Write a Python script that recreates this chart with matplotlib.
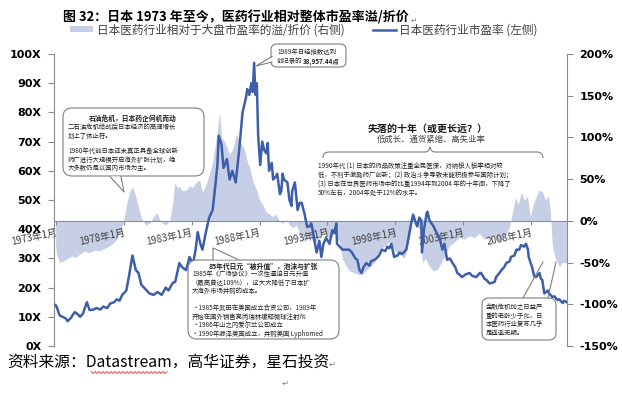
import numpy as np
import matplotlib
matplotlib.use('Agg')
import matplotlib.pyplot as plt
from matplotlib.patches import FancyBboxPatch, Polygon, Patch, PathPatch
from matplotlib.lines import Line2D
from matplotlib.path import Path
from matplotlib.transforms import IdentityTransform

plt.rcParams['font.family'] = ['Noto Sans CJK SC', 'DejaVu Sans']

# ---------------- data ----------------
pe_years = [1973.0, 1973.07, 1973.29, 1973.51, 1973.73, 1973.88, 1974.1, 1974.4, 1974.6, 1974.8, 1975.0,
            1975.3, 1975.5, 1975.8, 1976.0, 1976.3, 1976.5, 1976.8, 1977.0, 1977.3, 1977.5, 1977.7,
            1977.9, 1978.2, 1978.4, 1978.65, 1978.9, 1979.1, 1979.3, 1979.6, 1979.9, 1980.2, 1980.5,
            1980.8, 1981.1, 1981.3, 1981.6, 1981.8, 1982.1, 1982.3, 1982.6, 1982.85, 1983.1, 1983.3,
            1983.45, 1983.65, 1983.8, 1984.1, 1984.3, 1984.55, 1984.75, 1984.9, 1985.0, 1985.2, 1985.35,
            1985.6, 1985.8, 1986.0, 1986.25, 1986.5, 1986.75, 1987.0, 1987.1, 1987.25, 1987.4, 1987.5,
            1987.6, 1987.7, 1987.8, 1987.9, 1988.05, 1988.2, 1988.35, 1988.5, 1988.6, 1988.7, 1988.9,
            1989.0, 1989.2, 1989.3, 1989.5, 1989.6, 1989.7, 1989.8, 1990.05, 1990.2, 1990.35, 1990.4,
            1990.6, 1990.8, 1990.95, 1991.1, 1991.3, 1991.45, 1991.5, 1991.7, 1991.8, 1991.9, 1992.0,
            1992.2, 1992.25, 1992.4, 1992.55, 1992.7, 1992.9, 1993.15, 1993.35, 1993.5, 1993.65, 1993.7,
            1993.9, 1994.1, 1994.4, 1994.6, 1994.8, 1995.05, 1995.2, 1995.35, 1995.5, 1995.65, 1995.85,
            1996.1, 1996.2, 1996.45, 1996.6, 1996.8, 1997.0, 1997.25, 1997.4, 1997.55, 1997.7, 1997.9,
            1998.15, 1998.3, 1998.5, 1998.8, 1999.0, 1999.2, 1999.3, 1999.5, 1999.6, 1999.75, 1999.9,
            1999.95, 2000.1, 2000.3, 2000.35, 2000.5, 2000.65, 2000.8, 2000.9, 2001.0, 2001.25, 2001.45,
            2001.6, 2001.8, 2002.0, 2002.2, 2002.4, 2002.55, 2002.7, 2002.9, 2003.15, 2003.45, 2003.65,
            2003.95, 2004.2, 2004.3, 2004.55, 2004.7, 2004.9, 2005.05, 2005.3, 2005.4, 2005.65, 2005.8,
            2006.0, 2006.15, 2006.4, 2006.5, 2006.75, 2006.9, 2007.1, 2007.25, 2007.45, 2007.6, 2007.75,
            2007.8, 2008.05, 2008.2, 2008.35, 2008.6, 2008.7, 2008.8, 2008.95, 2009.2, 2009.3, 2009.55,
            2009.7, 2009.9, 2010.05, 2010.3, 2010.4, 2010.6]
pe_values = [14, 13.5, 10.5, 10, 9.5, 8.5, 9.5, 11.6, 11, 10, 11,
             15, 12.3, 12.5, 13, 12.5, 13.5, 13, 14.5, 15, 16, 15.5,
             17.5, 19, 24, 31, 26, 25, 21, 19.5, 18, 17.5, 18.5,
             17.5, 20, 19, 21.5, 22, 28.4, 27, 26, 30.5, 28, 33,
             39, 35, 33, 40, 44, 46.6, 55, 62, 72, 69, 61,
             64, 57, 60, 56, 67, 80, 85, 88, 86, 90, 87,
             97, 86, 90, 72, 62, 70, 67, 66, 69.5, 60, 62.7,
             57, 58, 59, 52, 53, 59, 57, 56, 50, 48, 53,
             56, 46.6, 49, 49, 45.5, 42, 40.8, 41, 42, 40, 37,
             32, 33, 36, 30.5, 35, 37, 35, 39.7, 38.7, 42, 35,
             34, 33, 33, 33, 32, 30, 29.5, 26, 25, 27, 28.4,
             27.5, 29, 29.5, 30, 31, 33, 32.5, 34, 33.5, 35, 30.5,
             31, 32, 31.5, 33, 38, 43, 45, 42, 41, 44, 43,
             32, 40, 45.5, 46, 43, 42, 41, 40, 39, 37, 33,
             35, 29.5, 30, 28.4, 27, 25, 24.5, 23.6, 24.5, 25, 24,
             23.6, 25, 25, 23, 22.6, 21.5, 21.5, 22, 23.6, 25, 26,
             27, 28.4, 29, 30.5, 31, 33, 33, 34.6, 34, 35, 33,
             30.5, 27, 24, 23.6, 25, 23, 22.6, 18, 19, 18, 16.8,
             17, 15.8, 16, 14.7, 15.5, 15]

prem_years = [1973.0, 1973.07, 1973.29, 1973.59, 1973.88, 1974.18, 1974.47, 1974.76, 1975.13, 1975.5,
              1975.87, 1976.24, 1976.6, 1976.97, 1977.34, 1977.56, 1977.78, 1978.0, 1978.22, 1978.44,
              1978.66, 1978.88, 1979.1, 1979.32, 1979.62, 1979.91, 1980.21, 1980.43, 1980.65, 1980.87,
              1981.09, 1981.38, 1981.6, 1981.75, 1981.97, 1982.12, 1982.34, 1982.63, 1982.85, 1983.07,
              1983.37, 1983.59, 1983.81, 1984.1, 1984.32, 1984.54, 1984.69, 1984.91, 1985.06, 1985.21,
              1985.43, 1985.57, 1985.79, 1986.01, 1986.31, 1986.53, 1986.75, 1986.9, 1987.12, 1987.26,
              1987.49, 1987.78, 1988.0, 1988.22, 1988.51, 1988.74, 1988.96, 1989.18, 1989.47, 1989.69,
              1989.99, 1990.21, 1990.43, 1990.72, 1990.94, 1991.31, 1991.68, 1992.04, 1992.41, 1992.78,
              1993.15, 1993.51, 1993.88, 1994.1, 1994.4, 1994.62, 1994.99, 1995.35, 1995.72, 1996.09,
              1996.46, 1996.82, 1997.19, 1997.56, 1997.93, 1998.29, 1998.66, 1999.03, 1999.25, 1999.47,
              1999.76, 1999.99, 2000.21, 2000.5, 2000.79, 2001.09, 2001.38, 2001.68, 2001.97, 2002.34,
              2002.71, 2003.07, 2003.44, 2003.81, 2004.18, 2004.54, 2004.91, 2005.28, 2005.65, 2006.01,
              2006.38, 2006.6, 2006.82, 2007.04, 2007.26, 2007.49, 2007.71, 2007.93, 2008.15, 2008.37,
              2008.59, 2008.81, 2009.03, 2009.25, 2009.4, 2009.54, 2009.76, 2010.06, 2010.28, 2010.6]
prem_values = [-30, -40, -50, -48, -45, -42, -44, -40, -36, -38,
               -35, -36, -33, -30, -25, -20, -12, 0, 20, 35,
               41, 30, 17, 3, -5, -3, 5, 10, 2, -3,
               -5, 0, 20, 45, 40, 41, 36, 37, 42, 40,
               47, 49, 34, 45, 57, 70, 85, 110, 130, 100,
               95, 89, 80, 85, 105, 95, 90, 85, 70, 65,
               49, 37, 25, 20, 10, 8, 5, 8, 0, -3,
               2, -5, -8, -5, -15, -25, -18, -28, -20, -12,
               -22, -15, -25, -45, -55, -60, -62, -65, -62, -55,
               -50, -35, -30, -25, -35, -40, -45, -20, 5, -5,
               -10, -50, -45, -55, -60, -58, -50, -40, -30, -25,
               -20, -22, -18, -20, -15, -22, -20, -18, -25, -20,
               -8, 10, 28, 20, 34, 25, 30, 5, 20, 30,
               37, 35, 25, 30, 10, -30, -45, -55, -50, -50]

tick_years = [1973, 1978, 1983, 1988, 1993, 1998, 2003, 2008]
tick_labels = ['1973年1月', '1978年1月', '1983年1月', '1988年1月', '1993年1月',
               '1998年1月', '2003年1月', '2008年1月']
left_ticks = [0, 10, 20, 30, 40, 50, 60, 70, 80, 90, 100]
left_labels = ['0X', '10X', '20X', '30X', '40X', '50X', '60X', '70X', '80X', '90X', '100X']
right_ticks = [-150, -100, -50, 0, 50, 100, 150, 200]
right_labels = ['-150%', '-100%', '-50%', '0%', '50%', '100%', '150%', '200%']

series_names = ['日本医药行业相对于大盘市盈率的溢/折价 (右侧)', '日本医药行业市盈率 (左侧)']

# ---------------- styling ----------------
W, H = 622, 393
LINE_C = '#3D5EA9'
AREA_C = '#C7CFE6'
AX_C = '#8C8C8C'

fig = plt.figure(figsize=(W / 100, H / 100), dpi=100)
fig.patch.set_facecolor('white')

L, R, T, B = 54, 567, 54, 346
ax = fig.add_axes([L / W, 1 - B / H, (R - L) / W, (B - T) / H])
ax2 = ax.twinx()
ax.set_zorder(ax2.get_zorder() + 1)
ax.patch.set_visible(False)

ax2.fill_between(prem_years, 0, prem_values, color=AREA_C, lw=0, zorder=1)
ax2.set_ylim(-150, 200)
ax2.set_yticks(right_ticks)
ax2.set_yticklabels(right_labels, fontsize=8, fontweight='bold', family='DejaVu Sans')
ax2.tick_params(axis='y', direction='out', length=4, color=AX_C, pad=5)
for s in ['top', 'bottom', 'left']:
    ax2.spines[s].set_visible(False)
ax2.spines['right'].set_color(AX_C)

ax.plot(pe_years, pe_values, color=LINE_C, lw=1.8, zorder=3)
ax.set_ylim(0, 100)
ax.set_xlim(1972.88, 2010.62)
ax.set_yticks(left_ticks)
ax.set_yticklabels(left_labels, fontsize=8, fontweight='bold', family='DejaVu Sans')
ax.tick_params(axis='y', direction='out', length=4, color=AX_C, pad=5)
for s in ['top', 'right']:
    ax.spines[s].set_visible(False)
ax.spines['left'].set_color(AX_C)
# category axis crosses at 0% of the right axis
ax.spines['bottom'].set_position(('data', 150 / 350 * 100))
ax.spines['bottom'].set_color(AX_C)
ax.set_xticks(tick_years)
ax.set_xticklabels(tick_labels, fontsize=7, rotation=12, ha='right', va='top',
                   rotation_mode='anchor', color='#404040')
ax.tick_params(axis='x', direction='out', length=3, color=AX_C, pad=2)

# ---------------- title / legend / source ----------------
def fx(x):
    return x / W

def fy(y):
    return 1 - y / H

fig.text(fx(63), fy(17), '图 32：日本 1973 年至今，医药行业相对整体市盈率溢/折价', fontsize=9.35,
         fontweight='bold', ha='left', va='center')
fig.text(fx(411), fy(20), '↵', fontsize=5.5, color='#808080', ha='left', va='center', family='DejaVu Sans')

handles = [Patch(facecolor=AREA_C, edgecolor='none'), Line2D([0], [0], color=LINE_C, lw=1.8)]
fig.legend(handles, series_names, loc='center', bbox_to_anchor=(fx(304), fy(30)), ncol=2,
           frameon=False, fontsize=8.4, handlelength=2.0, handleheight=0.45, columnspacing=2.4,
           handletextpad=0.3, labelcolor='#404040')

fig.text(fx(7), fy(362), '资料来源：Datastream，高华证券，星石投资', fontsize=11.3, ha='left', va='center')
fig.text(fx(329), fy(364), '↵', fontsize=6, color='#808080', ha='left', va='center', family='DejaVu Sans')
fig.text(fx(282), fy(383), '↵', fontsize=6, color='#808080', ha='left', va='center', family='DejaVu Sans')
# spell-check wavy underline
wx = np.arange(91, 169, 2.0)
wy = np.where(np.arange(len(wx)) % 2 == 0, 371.5, 373.5)
fig.add_artist(Line2D(wx, H - wy, transform=IdentityTransform(), color='#E03030', lw=0.6))

# ---------------- callouts ----------------
ID = IdentityTransform()

def P(x, y):
    return (x, H - y)

def bubble(x0, y0, x1, y1, pointer, r=7):
    box = FancyBboxPatch(P(x0, y1), x1 - x0, y1 - y0,
                         boxstyle='round,pad=0,rounding_size=%g' % r,
                         transform=ID, facecolor='white', edgecolor='#7F7F7F', lw=0.8, zorder=10)
    fig.add_artist(box)
    if pointer is not None:
        a, tip, b = pointer
        fig.add_artist(Polygon([P(*a), P(*tip), P(*b)], closed=True, transform=ID,
                               facecolor='white', edgecolor='none', zorder=11))
        fig.add_artist(Line2D([P(*a)[0], P(*tip)[0], P(*b)[0]], [P(*a)[1], P(*tip)[1], P(*b)[1]],
                              transform=ID, color='#7F7F7F', lw=0.8, zorder=12))

def txt(x, y, s, size=4.6, weight='normal', ha='left', color='#222222'):
    fig.text(fx(x), fy(y), s, fontsize=size, fontweight=weight, ha=ha, va='center', color=color, zorder=20)

# 1989 box
bubble(271, 44, 346, 67, ((272, 56.5), (256, 66), (272, 62)), r=6)
txt(277, 52, '1989年日经指数达到')
txt(277, 61.5, '创记录的')
txt(303, 61.5, '38,957.44点', weight='bold')

# oil crisis box
bubble(63, 108, 204, 176, ((110, 176.5), (124, 192), (121, 176.5)), r=9)
txt(133, 118, '石油危机，日本药企伺机而动', weight='bold', ha='center', size=4.9)
txt(68, 127, '二石油危机给战后日本经济的高速增长')
txt(68, 135.5, '划上了休止符。')
txt(68, 151, '1980年代前日本还未真正具备全球创新')
txt(68, 159.5, '药厂进行大规模开启海外扩张计划，绝')
txt(68, 168, '大多数仍是以国内市场为主。')

# 85 box
bubble(188, 260, 339, 339, ((213, 259.5), (213, 248), (238, 259.5)), r=9)
txt(263, 266, '85年代日元“被升值”，泡沫与扩张', weight='bold', ha='center', size=4.9)
txt(192, 274, '1985年《广场协议》一次性逼迫日元升值')
txt(192, 282.5, '（最高曾达109%），这大大降低了日本扩')
txt(192, 291, '大海外市场并购的成本。')
txt(192, 308, '·1985年武田在美国成立合资公司，1989年')
txt(192, 317, '开始在国外销售亮丙瑞林缓释微球注射剂')
txt(192, 325.5, '·1986年山之内爱尔兰公司成立')
txt(192, 334, '·1990年藤泽美国成立，并购美国 Lyphomed')

# financial crisis box
bubble(482, 298, 556, 340, None, r=7)
fig.add_artist(Line2D([P(523, 298)[0], P(543, 262)[0]], [P(523, 298)[1], P(543, 262)[1]],
                      transform=ID, color='#7F7F7F', lw=0.8, zorder=12))
fig.add_artist(Line2D([P(548, 298)[0], P(556, 262)[0]], [P(548, 298)[1], P(556, 262)[1]],
                      transform=ID, color='#7F7F7F', lw=0.8, zorder=12))
txt(486, 307, '金融危机加之日益严')
txt(486, 315.5, '重的老龄少子化，日')
txt(486, 324, '本医药行业复苏几乎')
txt(486, 332.5, '是遥遥无期。')

# lost decade header + brace
txt(428, 129, '失落的十年（或更长远？）', weight='bold', ha='center', size=7.2, color='#1a1a1a')
txt(431, 139.5, '低成长、通货紧缩、高失业率', ha='center', size=6.0, color='#404040')
bx0, bx1, bym, byt, bye = 323, 543, 152, 147, 158
verts = [P(bx0, bye), P(bx0, bym), P(bx0 + 6, bym),
         P(425, bym), P(429, bym), P(430, byt),
         P(431, bym), P(435, bym), P(bx1 - 6, bym), P(bx1, bym), P(bx1, bye)]
codes = [Path.MOVETO, Path.CURVE3, Path.CURVE3,
         Path.LINETO, Path.CURVE3, Path.CURVE3,
         Path.CURVE3, Path.CURVE3, Path.LINETO, Path.CURVE3, Path.CURVE3]
fig.add_artist(PathPatch(Path(verts, codes), transform=ID, facecolor='none', edgecolor='#7F7F7F', lw=0.8))
txt(318, 167, '1990年代 (1) 日本的药品政策注重全民医保，对纳税人税率相对较')
txt(318, 176, '低，不利于激励药厂创新；(2) 政治斗争导致未能积极参与国际计划；')
txt(318, 184.5, '(3) 日本在世界医药市场中的比重1994年到2004 年的十年间，下降了')
txt(318, 193, '50%左右，2004年处于12%的水平。')

fig.savefig('out.png', dpi=100, facecolor='white')
